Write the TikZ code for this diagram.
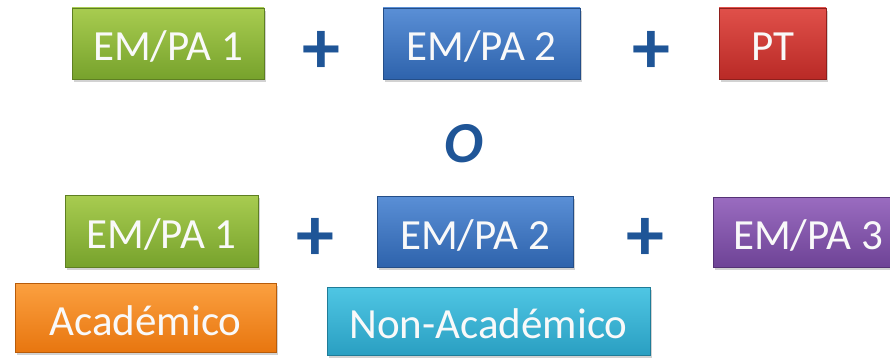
\documentclass[tikz,border=0pt]{standalone}
\usepackage{fontspec}
\setmainfont{Carlito}
\usetikzlibrary{shadows}
\definecolor{gtop}{HTML}{A8CC50}\definecolor{gbot}{HTML}{77A22C}\definecolor{gbrd}{HTML}{5E7F22}
\definecolor{btop}{HTML}{5A8FD6}\definecolor{bbot}{HTML}{2E63AC}\definecolor{bbrd}{HTML}{244E88}
\definecolor{rtop}{HTML}{E0504A}\definecolor{rbot}{HTML}{B92A26}\definecolor{rbrd}{HTML}{8E1F1C}
\definecolor{ptop}{HTML}{9A6CC0}\definecolor{pbot}{HTML}{6E4396}\definecolor{pbrd}{HTML}{553275}
\definecolor{otop}{HTML}{FBA040}\definecolor{obot}{HTML}{E8760F}\definecolor{obrd}{HTML}{B85C0A}
\definecolor{ctop}{HTML}{4FC6E4}\definecolor{cbot}{HTML}{2A9FC2}\definecolor{cbrd}{HTML}{1F7C98}
\definecolor{plusblue}{HTML}{1F5597}
\tikzset{
  boxstyle/.style={rectangle, inner sep=0pt, text=white!95!gray,
    font=\fontsize{43}{43}\selectfont, text height=35pt, text depth=0pt,
    drop shadow={opacity=0.35, shadow xshift=2pt, shadow yshift=-3pt}},
  gbox/.style={boxstyle, top color=gtop, bottom color=gbot, draw=gbrd, line width=0.6pt},
  bbox/.style={boxstyle, top color=btop, bottom color=bbot, draw=bbrd, line width=0.6pt},
  rbox/.style={boxstyle, top color=rtop, bottom color=rbot, draw=rbrd, line width=0.6pt},
  pbox/.style={boxstyle, top color=ptop, bottom color=pbot, draw=pbrd, line width=0.6pt},
  obox/.style={boxstyle, top color=otop, bottom color=obot, draw=obrd, line width=0.6pt},
  cbox/.style={boxstyle, top color=ctop, bottom color=cbot, draw=cbrd, line width=0.6pt},
  plussign/.style={inner sep=0pt, text=plusblue, font=\fontsize{76}{76}\selectfont\bfseries},
  orsign/.style={inner sep=0pt, text=plusblue, font=\fontsize{58}{58}\selectfont\bfseries\itshape}
}
\begin{document}
\begin{tikzpicture}[x=1pt,y=-1pt]
\useasboundingbox[fill=white] (0,0) rectangle (890,358);
% top row
\node[gbox, minimum width=192pt, minimum height=71pt] (g1) at (168,43.5) {EM/PA 1};
\node[plussign] (p1) at (321,52) {+};
\node[bbox, minimum width=197pt, minimum height=71pt] (b1) at (481.5,43.5) {EM/PA 2};
\node[plussign] (p2) at (651,52) {+};
\node[rbox, minimum width=107pt, minimum height=71pt] (r1) at (772.5,43.5) {PT};
% or
\node[orsign] (or) at (464,144) {O};
% bottom row
\node[gbox, minimum width=193pt, minimum height=72pt] (g2) at (161.5,231) {EM/PA 1};
\node[plussign] (p3) at (315,239) {+};
\node[bbox, minimum width=196pt, minimum height=71pt] (b2) at (475,231.5) {EM/PA 2};
\node[plussign] (p4) at (645,239) {+};
\node[pbox, minimum width=190pt, minimum height=70pt] (u2) at (808,232) {EM/PA 3};
\node[obox, minimum width=261pt, minimum height=69pt] (a) at (145.5,317.5) {Académico};
\node[cbox, minimum width=323pt, minimum height=68pt] (n) at (488.5,321) {Non-Académico};
\end{tikzpicture}
\end{document}
